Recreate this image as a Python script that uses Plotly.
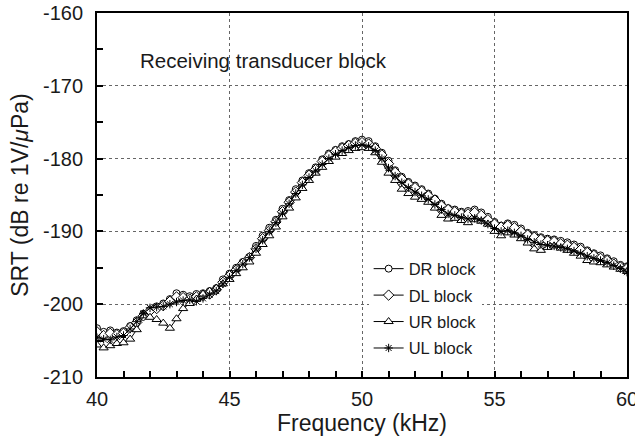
import plotly.graph_objects as go

freq_khz = [40.00, 40.25, 40.50, 40.75, 41.00, 41.25, 41.50, 41.75, 42.00, 42.25,
            42.50, 42.75, 43.00, 43.25, 43.50, 43.75, 44.00, 44.25, 44.50, 44.75,
            45.00, 45.25, 45.50, 45.75, 46.00, 46.25, 46.50, 46.75, 47.00, 47.25,
            47.50, 47.75, 48.00, 48.25, 48.50, 48.75, 49.00, 49.25, 49.50, 49.75,
            50.00, 50.25, 50.50, 50.75, 51.00, 51.25, 51.50, 51.75, 52.00, 52.25,
            52.50, 52.75, 53.00, 53.25, 53.50, 53.75, 54.00, 54.25, 54.50, 54.75,
            55.00, 55.25, 55.50, 55.75, 56.00, 56.25, 56.50, 56.75, 57.00, 57.25,
            57.50, 57.75, 58.00, 58.25, 58.50, 58.75, 59.00, 59.25, 59.50, 59.75,
            60.00]

dr_block = [-203.3, -203.8, -203.6, -203.9, -203.7, -203.0, -202.2, -201.3, -200.8, -200.3,
            -199.9, -199.3, -198.5, -198.7, -198.9, -198.6, -198.5, -198.2, -197.8, -196.6,
            -195.8, -195.0, -194.2, -193.5, -192.0, -190.6, -189.5, -188.4, -186.9, -185.7,
            -184.2, -183.0, -182.0, -181.2, -180.1, -179.3, -178.8, -178.3, -178.0, -177.6,
            -177.4, -177.6, -178.3, -179.2, -180.3, -181.6, -182.5, -183.2, -183.7, -184.2,
            -184.8, -185.5, -186.2, -186.8, -187.0, -187.3, -187.2, -187.0, -187.4, -188.0,
            -188.7, -189.2, -188.9, -189.1, -189.6, -190.2, -190.5, -190.8, -191.0, -191.1,
            -191.3, -191.5, -191.8, -192.1, -192.6, -193.0, -193.3, -193.7, -194.1, -194.6,
            -194.8]

dl_block = [-203.8, -204.3, -204.0, -204.2, -204.0, -203.2, -202.5, -201.6, -200.9, -200.6,
            -200.2, -199.6, -199.0, -199.1, -199.3, -199.0, -198.8, -198.6, -198.0, -197.0,
            -196.1, -195.3, -194.4, -193.6, -192.4, -191.0, -189.9, -188.7, -187.3, -186.0,
            -184.6, -183.3, -182.3, -181.5, -180.4, -179.6, -179.0, -178.6, -178.2, -177.9,
            -177.8, -178.0, -178.6, -179.5, -180.7, -181.9, -182.8, -183.5, -184.0, -184.5,
            -185.1, -185.7, -186.5, -187.0, -187.3, -187.6, -187.6, -187.4, -187.8, -188.4,
            -189.0, -189.4, -189.2, -189.5, -190.0, -190.5, -190.8, -191.1, -191.3, -191.4,
            -191.7, -191.9, -192.2, -192.5, -192.9, -193.3, -193.7, -194.0, -194.5, -194.9,
            -195.1]

ur_block = [-205.6, -206.0, -205.7, -205.4, -205.3, -204.8, -203.5, -201.6, -201.8, -202.1,
            -202.6, -203.3, -202.0, -200.6, -199.9, -199.3, -198.6, -198.2, -197.8, -197.2,
            -196.6, -195.8, -195.0, -194.2, -193.0, -191.8, -190.6, -189.4, -188.0, -186.8,
            -185.4, -184.1, -183.0, -182.0, -181.2, -180.4, -179.8, -179.3, -178.9, -178.6,
            -178.5, -178.6, -179.2, -180.5, -182.0, -183.0, -184.2, -184.8, -185.3, -185.6,
            -186.0, -186.8, -187.8, -188.3, -188.2, -188.5, -188.8, -188.4, -188.6, -189.0,
            -190.0, -190.6, -190.2, -190.5, -191.0, -191.6, -192.4, -192.6, -192.2, -192.0,
            -192.3, -192.6, -193.0, -193.4, -194.0, -194.2, -194.3, -194.6, -194.9, -195.2,
            -195.5]

ul_block = [-204.6, -204.8, -204.9, -204.5, -204.3, -203.4, -202.4, -201.3, -200.5, -200.4,
            -200.3, -200.0, -199.7, -199.5, -199.4, -199.6, -199.2, -198.7, -198.2, -197.2,
            -196.3, -195.4, -194.5, -193.6, -192.4, -191.2, -190.0, -188.8, -187.5, -186.2,
            -184.8, -183.6, -182.6, -181.7, -180.8, -180.0, -179.4, -178.9, -178.5, -178.2,
            -178.1, -178.3, -178.9, -180.0, -181.3, -182.4, -183.3, -184.0, -184.6, -185.1,
            -185.6, -186.3, -187.0, -187.6, -187.8, -188.1, -188.3, -188.2, -188.5, -189.0,
            -189.6, -190.0, -189.9, -190.2, -190.6, -191.1, -191.5, -191.8, -191.9, -192.0,
            -192.2, -192.4, -192.7, -193.0, -193.4, -193.7, -194.0, -194.3, -194.7, -195.1,
            -195.6]

series_names = ["DR block", "DL block", "UR block", "UL block"]
series_values = [dr_block, dl_block, ur_block, ul_block]
symbols = ["circle", "diamond", "triangle-up", "asterisk-open"]
fills = ["white", "white", "white", "black"]
sizes = [7, 8, 8, 7]

x_ticks = [40, 45, 50, 55, 60]
x_labels = ["40", "45", "50", "55", "60"]
y_ticks = [-210, -200, -190, -180, -170, -160]
y_labels = ["-210", "-200", "-190", "-180", "-170", "-160"]

FONT = "Liberation Sans, Arial, sans-serif"
INK = "#1a1a1a"

fig = go.Figure()
for i, (name, vals) in enumerate(zip(series_names, series_values)):
    fig.add_trace(go.Scatter(
        x=freq_khz, y=vals, name=name, mode="lines+markers",
        legendgroup=name,
        line=dict(color="black", width=1),
        marker=dict(symbol=symbols[i], size=sizes[i], color=fills[i],
                    line=dict(color="black", width=1)),
    ))

axis_common = dict(
    showline=True, linecolor="black", linewidth=2, mirror=True,
    ticks="inside", ticklen=6, tickwidth=1.5, tickcolor="black",
    showgrid=True, gridcolor="#666", griddash="dot", gridwidth=1,
    zeroline=False, ticklabeloverflow="allow", automargin=False,
    tickfont=dict(family=FONT, size=20, color=INK),
)

fig.update_xaxes(
    range=[40, 60], tickvals=x_ticks, ticktext=x_labels,
    ticklabelstandoff=3,
    minor=dict(dtick=1, ticks="inside", ticklen=6, tickcolor="black", showgrid=False),
    title=dict(text="Frequency (kHz)", font=dict(family=FONT, size=23, color=INK), standoff=5),
    **axis_common,
)
fig.update_yaxes(
    range=[-210, -160], tickvals=y_ticks, ticktext=y_labels,
    ticklabelstandoff=8,
    minor=dict(dtick=5, ticks="inside", ticklen=6, tickcolor="black", showgrid=False),
    title=dict(text="SRT (dB re 1V/<i>μ</i>Pa)", font=dict(family=FONT, size=23, color=INK), standoff=8),
    **axis_common,
)

fig.add_annotation(
    x=41.55, y=-166.5, xref="x", yref="y", xanchor="left", yanchor="middle",
    text="Receiving transducer block", showarrow=False,
    font=dict(family=FONT, size=20.5, color=INK),
)

fig.update_layout(
    width=635, height=448,
    margin=dict(l=97, r=8, t=13, b=71),
    paper_bgcolor="white", plot_bgcolor="white",
    showlegend=True,
    legend=dict(x=0.5125, y=0.345, xanchor="left", yanchor="top",
                bgcolor="white", borderwidth=0, tracegroupgap=2,
                font=dict(family=FONT, size=16.5, color=INK)),
)

fig.write_html("out.html")
